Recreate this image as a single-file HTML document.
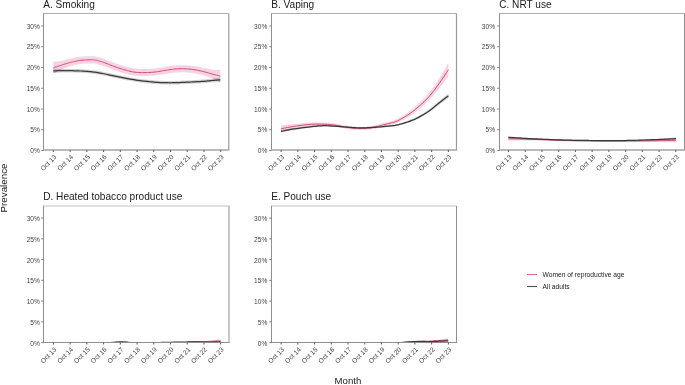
<!DOCTYPE html>
<html><head><meta charset="utf-8"><title>Prevalence chart</title>
<style>
html,body{margin:0;padding:0;background:#fff;width:685px;height:385px;overflow:hidden;}
svg{display:block;font-family:"Liberation Sans", sans-serif;filter:blur(0.3px);}
</style></head><body>
<svg width="685" height="385" viewBox="0 0 685 385">
<defs>
<clipPath id="clipA"><rect x="43.5" y="13.5" width="185.0" height="136.5"/></clipPath>
<clipPath id="clipB"><rect x="271.5" y="13.5" width="185.0" height="136.5"/></clipPath>
<clipPath id="clipC"><rect x="499.5" y="13.5" width="185.0" height="136.5"/></clipPath>
<clipPath id="clipD"><rect x="43.5" y="206.0" width="185.0" height="136.5"/></clipPath>
<clipPath id="clipE"><rect x="271.5" y="206.0" width="185.0" height="136.5"/></clipPath>
</defs>
<rect width="685" height="385" fill="#fff"/>
<polygon clip-path="url(#clipA)" points="53.30,61.50 53.83,61.55 54.54,61.60 55.40,61.61 56.34,61.59 57.32,61.52 58.29,61.42 59.20,61.30 60.00,61.17 60.71,61.03 61.37,60.89 62.00,60.74 62.61,60.59 63.20,60.44 63.79,60.28 64.39,60.13 65.00,59.98 65.62,59.83 66.25,59.68 66.88,59.54 67.50,59.39 68.12,59.25 68.75,59.10 69.38,58.96 70.00,58.81 70.62,58.66 71.23,58.50 71.83,58.35 72.44,58.20 73.05,58.04 73.68,57.90 74.33,57.75 75.00,57.61 75.68,57.48 76.36,57.35 77.04,57.22 77.75,57.09 78.49,56.98 79.27,56.86 80.10,56.76 81.00,56.67 82.01,56.58 83.13,56.50 84.33,56.43 85.56,56.36 86.79,56.30 87.96,56.25 89.05,56.22 90.00,56.19 90.82,56.18 91.53,56.17 92.17,56.17 92.75,56.18 93.30,56.21 93.84,56.25 94.40,56.31 95.00,56.40 95.62,56.50 96.25,56.64 96.88,56.79 97.50,56.96 98.12,57.14 98.75,57.33 99.38,57.51 100.00,57.70 100.59,57.87 101.13,58.02 101.66,58.18 102.19,58.34 102.76,58.52 103.40,58.73 104.14,58.99 105.00,59.30 106.01,59.68 107.15,60.13 108.38,60.63 109.69,61.16 111.03,61.69 112.38,62.23 113.72,62.73 115.00,63.20 116.25,63.63 117.50,64.05 118.75,64.46 120.00,64.85 121.25,65.23 122.50,65.60 123.75,65.96 125.00,66.30 126.25,66.64 127.50,66.98 128.75,67.30 130.00,67.62 131.25,67.91 132.50,68.18 133.75,68.41 135.00,68.60 136.25,68.75 137.50,68.86 138.75,68.93 140.00,68.98 141.25,69.01 142.50,69.01 143.75,69.01 145.00,69.00 146.25,68.98 147.50,68.94 148.75,68.89 150.00,68.82 151.25,68.74 152.50,68.64 153.75,68.53 155.00,68.40 156.25,68.25 157.50,68.07 158.75,67.86 160.00,67.65 161.25,67.43 162.50,67.21 163.75,67.00 165.00,66.80 166.25,66.61 167.50,66.41 168.75,66.21 170.00,66.01 171.25,65.83 172.50,65.66 173.75,65.51 175.00,65.40 176.25,65.31 177.50,65.23 178.75,65.18 180.00,65.14 181.25,65.13 182.50,65.13 183.75,65.15 185.00,65.19 186.25,65.25 187.50,65.32 188.75,65.41 190.00,65.53 191.25,65.65 192.50,65.80 193.75,65.97 195.00,66.15 196.27,66.35 197.57,66.59 198.88,66.85 200.19,67.11 201.47,67.39 202.71,67.65 203.89,67.90 205.00,68.14 206.01,68.35 206.93,68.55 207.79,68.75 208.61,68.94 209.41,69.12 210.23,69.29 211.08,69.45 212.00,69.60 213.03,69.73 214.18,69.83 215.38,69.90 216.59,69.91 217.74,69.86 218.78,69.76 219.65,69.63 220.30,69.50 220.30,82.70 219.65,82.24 218.78,81.68 217.74,81.06 216.59,80.44 215.38,79.85 214.18,79.30 213.03,78.82 212.00,78.40 211.08,78.04 210.23,77.70 209.41,77.38 208.61,77.08 207.79,76.77 206.93,76.47 206.01,76.17 205.00,75.86 203.89,75.55 202.71,75.22 201.47,74.89 200.19,74.56 198.88,74.25 197.57,73.95 196.27,73.69 195.00,73.45 193.75,73.25 192.50,73.07 191.25,72.91 190.00,72.77 188.75,72.65 187.50,72.55 186.25,72.47 185.00,72.41 183.75,72.37 182.50,72.34 181.25,72.34 180.00,72.36 178.75,72.39 177.50,72.44 176.25,72.51 175.00,72.60 173.75,72.72 172.50,72.86 171.25,73.03 170.00,73.21 168.75,73.41 167.50,73.61 166.25,73.81 165.00,74.00 163.75,74.20 162.50,74.41 161.25,74.63 160.00,74.85 158.75,75.06 157.50,75.27 156.25,75.45 155.00,75.60 153.75,75.73 152.50,75.84 151.25,75.94 150.00,76.03 148.75,76.09 147.50,76.14 146.25,76.18 145.00,76.20 143.75,76.21 142.50,76.21 141.25,76.21 140.00,76.18 138.75,76.13 137.50,76.06 136.25,75.95 135.00,75.80 133.75,75.61 132.50,75.38 131.25,75.11 130.00,74.82 128.75,74.50 127.50,74.18 126.25,73.84 125.00,73.50 123.75,73.16 122.50,72.80 121.25,72.43 120.00,72.05 118.75,71.66 117.50,71.25 116.25,70.83 115.00,70.40 113.72,69.94 112.38,69.43 111.03,68.90 109.69,68.36 108.38,67.83 107.15,67.33 106.01,66.88 105.00,66.50 104.14,66.19 103.40,65.93 102.76,65.72 102.19,65.54 101.66,65.38 101.13,65.23 100.59,65.07 100.00,64.90 99.38,64.72 98.75,64.53 98.12,64.34 97.50,64.16 96.88,64.00 96.25,63.84 95.62,63.71 95.00,63.60 94.40,63.52 93.84,63.46 93.30,63.42 92.75,63.39 92.17,63.38 91.53,63.38 90.82,63.39 90.00,63.41 89.05,63.43 87.96,63.48 86.79,63.53 85.56,63.59 84.33,63.66 83.13,63.75 82.01,63.84 81.00,63.93 80.10,64.04 79.27,64.15 78.49,64.27 77.75,64.41 77.04,64.54 76.36,64.69 75.68,64.83 75.00,64.99 74.33,65.14 73.68,65.31 73.05,65.48 72.44,65.65 71.83,65.83 71.23,66.02 70.62,66.20 70.00,66.39 69.38,66.58 68.75,66.77 68.12,66.96 67.50,67.16 66.88,67.36 66.25,67.57 65.62,67.79 65.00,68.02 64.39,68.26 63.79,68.51 63.20,68.76 62.61,69.02 62.00,69.30 61.37,69.59 60.71,69.90 60.00,70.23 59.20,70.62 58.29,71.07 57.32,71.58 56.34,72.12 55.40,72.68 54.54,73.23 53.83,73.72 53.30,74.10" fill="#d6457c" fill-opacity="0.24" />
<polygon clip-path="url(#clipA)" points="53.30,68.70 54.25,68.72 55.49,68.73 56.97,68.74 58.62,68.73 60.40,68.72 62.26,68.71 64.14,68.72 66.00,68.73 67.91,68.77 69.95,68.82 72.08,68.88 74.26,68.94 76.44,69.02 78.57,69.10 80.60,69.20 82.50,69.29 84.27,69.40 85.96,69.51 87.59,69.63 89.16,69.77 90.67,69.91 92.14,70.06 93.58,70.22 95.00,70.40 96.37,70.59 97.68,70.79 98.93,71.01 100.16,71.24 101.36,71.47 102.56,71.71 103.77,71.96 105.00,72.20 106.25,72.45 107.50,72.71 108.75,72.97 110.00,73.24 111.25,73.51 112.50,73.77 113.75,74.04 115.00,74.30 116.25,74.56 117.50,74.81 118.75,75.07 120.00,75.32 121.25,75.57 122.50,75.82 123.75,76.06 125.00,76.30 126.25,76.54 127.50,76.78 128.75,77.01 130.00,77.24 131.25,77.47 132.50,77.69 133.75,77.90 135.00,78.10 136.25,78.29 137.50,78.47 138.75,78.64 140.00,78.80 141.25,78.96 142.50,79.11 143.75,79.26 145.00,79.40 146.25,79.54 147.50,79.68 148.75,79.82 150.00,79.95 151.25,80.07 152.50,80.19 153.75,80.30 155.00,80.40 156.25,80.49 157.50,80.57 158.75,80.65 160.00,80.71 161.25,80.77 162.50,80.82 163.75,80.86 165.00,80.90 166.25,80.93 167.50,80.94 168.75,80.95 170.00,80.96 171.25,80.95 172.50,80.94 173.75,80.92 175.00,80.90 176.25,80.87 177.50,80.83 178.75,80.78 180.00,80.73 181.25,80.67 182.50,80.61 183.75,80.56 185.00,80.50 186.25,80.44 187.50,80.38 188.75,80.32 190.00,80.26 191.25,80.19 192.50,80.13 193.75,80.06 195.00,79.99 196.27,79.92 197.57,79.84 198.88,79.77 200.19,79.69 201.47,79.61 202.71,79.53 203.89,79.44 205.00,79.36 206.01,79.27 206.93,79.17 207.79,79.08 208.61,78.98 209.41,78.88 210.23,78.78 211.08,78.68 212.00,78.58 213.03,78.47 214.18,78.34 215.38,78.21 216.59,78.07 217.74,77.93 218.78,77.80 219.65,77.69 220.30,77.60 220.30,82.00 219.65,82.02 218.78,82.05 217.74,82.09 216.59,82.14 215.38,82.20 214.18,82.28 213.03,82.35 212.00,82.42 211.08,82.50 210.23,82.57 209.41,82.65 208.61,82.73 207.79,82.81 206.93,82.89 206.01,82.97 205.00,83.04 203.89,83.12 202.71,83.19 201.47,83.26 200.19,83.34 198.88,83.41 197.57,83.47 196.27,83.54 195.00,83.61 193.75,83.68 192.50,83.74 191.25,83.81 190.00,83.87 188.75,83.93 187.50,83.99 186.25,84.05 185.00,84.10 183.75,84.16 182.50,84.22 181.25,84.28 180.00,84.33 178.75,84.38 177.50,84.43 176.25,84.47 175.00,84.50 173.75,84.52 172.50,84.54 171.25,84.55 170.00,84.56 168.75,84.55 167.50,84.54 166.25,84.53 165.00,84.50 163.75,84.46 162.50,84.42 161.25,84.37 160.00,84.31 158.75,84.25 157.50,84.17 156.25,84.09 155.00,84.00 153.75,83.90 152.50,83.79 151.25,83.67 150.00,83.55 148.75,83.42 147.50,83.28 146.25,83.14 145.00,83.00 143.75,82.86 142.50,82.71 141.25,82.56 140.00,82.40 138.75,82.24 137.50,82.07 136.25,81.89 135.00,81.70 133.75,81.50 132.50,81.29 131.25,81.07 130.00,80.84 128.75,80.61 127.50,80.38 126.25,80.14 125.00,79.90 123.75,79.66 122.50,79.42 121.25,79.17 120.00,78.92 118.75,78.67 117.50,78.41 116.25,78.16 115.00,77.90 113.75,77.64 112.50,77.38 111.25,77.11 110.00,76.84 108.75,76.57 107.50,76.31 106.25,76.05 105.00,75.80 103.77,75.56 102.56,75.31 101.36,75.07 100.16,74.84 98.93,74.61 97.68,74.39 96.37,74.19 95.00,74.00 93.58,73.83 92.14,73.66 90.67,73.51 89.16,73.37 87.59,73.24 85.96,73.12 84.27,73.01 82.50,72.91 80.60,72.81 78.57,72.72 76.44,72.65 74.26,72.58 72.08,72.53 69.95,72.49 67.91,72.47 66.00,72.47 64.14,72.49 62.26,72.54 60.40,72.61 58.62,72.71 56.97,72.81 55.49,72.92 54.25,73.02 53.30,73.10" fill="#000000" fill-opacity="0.17" />
<polyline clip-path="url(#clipA)" points="53.30,67.80 53.83,67.64 54.54,67.41 55.40,67.15 56.34,66.86 57.32,66.55 58.29,66.25 59.20,65.96 60.00,65.70 60.71,65.47 61.37,65.24 62.00,65.02 62.61,64.81 63.20,64.60 63.79,64.39 64.39,64.20 65.00,64.00 65.62,63.81 66.25,63.63 66.88,63.45 67.50,63.27 68.12,63.10 68.75,62.94 69.38,62.77 70.00,62.60 70.62,62.43 71.23,62.26 71.83,62.09 72.44,61.93 73.05,61.76 73.68,61.60 74.33,61.45 75.00,61.30 75.68,61.16 76.36,61.02 77.04,60.88 77.75,60.75 78.49,60.63 79.27,60.51 80.10,60.40 81.00,60.30 82.01,60.21 83.13,60.12 84.33,60.05 85.56,59.98 86.79,59.91 87.96,59.86 89.05,59.83 90.00,59.80 90.82,59.78 91.53,59.77 92.17,59.78 92.75,59.79 93.30,59.81 93.84,59.86 94.40,59.92 95.00,60.00 95.62,60.11 96.25,60.24 96.88,60.39 97.50,60.56 98.12,60.74 98.75,60.93 99.38,61.12 100.00,61.30 100.59,61.47 101.13,61.62 101.66,61.78 102.19,61.94 102.76,62.12 103.40,62.33 104.14,62.59 105.00,62.90 106.01,63.28 107.15,63.73 108.38,64.23 109.69,64.76 111.03,65.30 112.38,65.83 113.72,66.34 115.00,66.80 116.25,67.23 117.50,67.65 118.75,68.06 120.00,68.45 121.25,68.83 122.50,69.20 123.75,69.56 125.00,69.90 126.25,70.24 127.50,70.58 128.75,70.90 130.00,71.22 131.25,71.51 132.50,71.78 133.75,72.01 135.00,72.20 136.25,72.35 137.50,72.46 138.75,72.53 140.00,72.58 141.25,72.61 142.50,72.61 143.75,72.61 145.00,72.60 146.25,72.58 147.50,72.54 148.75,72.49 150.00,72.43 151.25,72.34 152.50,72.24 153.75,72.13 155.00,72.00 156.25,71.85 157.50,71.67 158.75,71.46 160.00,71.25 161.25,71.03 162.50,70.81 163.75,70.60 165.00,70.40 166.25,70.21 167.50,70.01 168.75,69.81 170.00,69.61 171.25,69.43 172.50,69.26 173.75,69.12 175.00,69.00 176.25,68.91 177.50,68.84 178.75,68.78 180.00,68.75 181.25,68.73 182.50,68.74 183.75,68.76 185.00,68.80 186.25,68.86 187.50,68.94 188.75,69.03 190.00,69.15 191.25,69.28 192.50,69.44 193.75,69.61 195.00,69.80 196.27,70.02 197.57,70.27 198.88,70.55 200.19,70.84 201.47,71.14 202.71,71.44 203.89,71.73 205.00,72.00 206.01,72.26 206.93,72.51 207.79,72.76 208.61,73.01 209.41,73.25 210.23,73.50 211.08,73.75 212.00,74.00 213.03,74.27 214.18,74.57 215.38,74.87 216.59,75.17 217.74,75.46 218.78,75.72 219.65,75.94 220.30,76.10" fill="none" stroke="#d6457c" stroke-width="1.0" stroke-linejoin="round"/>
<polyline clip-path="url(#clipA)" points="53.30,70.90 54.25,70.87 55.49,70.83 56.97,70.77 58.62,70.72 60.40,70.67 62.26,70.63 64.14,70.60 66.00,70.60 67.91,70.62 69.95,70.65 72.08,70.70 74.26,70.76 76.44,70.83 78.57,70.91 80.60,71.00 82.50,71.10 84.27,71.20 85.96,71.32 87.59,71.44 89.16,71.57 90.67,71.71 92.14,71.86 93.58,72.02 95.00,72.20 96.37,72.39 97.68,72.59 98.93,72.81 100.16,73.04 101.36,73.27 102.56,73.51 103.77,73.76 105.00,74.00 106.25,74.25 107.50,74.51 108.75,74.77 110.00,75.04 111.25,75.31 112.50,75.58 113.75,75.84 115.00,76.10 116.25,76.36 117.50,76.61 118.75,76.87 120.00,77.12 121.25,77.37 122.50,77.62 123.75,77.86 125.00,78.10 126.25,78.34 127.50,78.58 128.75,78.81 130.00,79.04 131.25,79.27 132.50,79.49 133.75,79.70 135.00,79.90 136.25,80.09 137.50,80.27 138.75,80.44 140.00,80.60 141.25,80.76 142.50,80.91 143.75,81.06 145.00,81.20 146.25,81.34 147.50,81.48 148.75,81.62 150.00,81.75 151.25,81.87 152.50,81.99 153.75,82.10 155.00,82.20 156.25,82.29 157.50,82.37 158.75,82.45 160.00,82.51 161.25,82.57 162.50,82.62 163.75,82.66 165.00,82.70 166.25,82.73 167.50,82.74 168.75,82.75 170.00,82.76 171.25,82.75 172.50,82.74 173.75,82.72 175.00,82.70 176.25,82.67 177.50,82.63 178.75,82.58 180.00,82.53 181.25,82.47 182.50,82.42 183.75,82.36 185.00,82.30 186.25,82.24 187.50,82.18 188.75,82.12 190.00,82.06 191.25,82.00 192.50,81.93 193.75,81.87 195.00,81.80 196.27,81.73 197.57,81.66 198.88,81.59 200.19,81.51 201.47,81.44 202.71,81.36 203.89,81.28 205.00,81.20 206.01,81.12 206.93,81.03 207.79,80.94 208.61,80.86 209.41,80.77 210.23,80.68 211.08,80.59 212.00,80.50 213.03,80.41 214.18,80.31 215.38,80.21 216.59,80.11 217.74,80.01 218.78,79.93 219.65,79.85 220.30,79.80" fill="none" stroke="#383838" stroke-width="1.25" stroke-linejoin="round"/>
<line x1="43.5" y1="13.0" x2="43.5" y2="150.6" stroke="#8f8f8f" stroke-width="1"/>
<line x1="43.5" y1="13.5" x2="228.7" y2="13.5" stroke="#adadad" stroke-width="1.1"/>
<line x1="228.7" y1="13.5" x2="228.7" y2="150.0" stroke="#ababab" stroke-width="1.4"/>
<line x1="43.0" y1="150.0" x2="229.29999999999998" y2="150.0" stroke="#a3a3a3" stroke-width="1.4"/>
<line x1="41.20" y1="150.50" x2="43.5" y2="150.50" stroke="#858585" stroke-width="1"/>
<text x="39.90" y="153.00" text-anchor="end" font-size="6.6" fill="#444444">0%</text>
<line x1="41.20" y1="129.75" x2="43.5" y2="129.75" stroke="#858585" stroke-width="1"/>
<text x="39.90" y="132.25" text-anchor="end" font-size="6.6" fill="#444444">5%</text>
<line x1="41.20" y1="109.00" x2="43.5" y2="109.00" stroke="#858585" stroke-width="1"/>
<text x="39.90" y="111.50" text-anchor="end" font-size="6.6" fill="#444444">10%</text>
<line x1="41.20" y1="88.25" x2="43.5" y2="88.25" stroke="#858585" stroke-width="1"/>
<text x="39.90" y="90.75" text-anchor="end" font-size="6.6" fill="#444444">15%</text>
<line x1="41.20" y1="67.50" x2="43.5" y2="67.50" stroke="#858585" stroke-width="1"/>
<text x="39.90" y="70.00" text-anchor="end" font-size="6.6" fill="#444444">20%</text>
<line x1="41.20" y1="46.75" x2="43.5" y2="46.75" stroke="#858585" stroke-width="1"/>
<text x="39.90" y="49.25" text-anchor="end" font-size="6.6" fill="#444444">25%</text>
<line x1="41.20" y1="26.00" x2="43.5" y2="26.00" stroke="#858585" stroke-width="1"/>
<text x="39.90" y="28.50" text-anchor="end" font-size="6.6" fill="#444444">30%</text>
<line x1="53.40" y1="150.0" x2="53.40" y2="152.00" stroke="#5a5a5a" stroke-width="1"/>
<text transform="translate(53.50,154.10) rotate(-45)" text-anchor="end" font-size="6.6" fill="#444444" dy="4.8">Oct 13</text>
<line x1="70.13" y1="150.0" x2="70.13" y2="152.00" stroke="#5a5a5a" stroke-width="1"/>
<text transform="translate(70.23,154.10) rotate(-45)" text-anchor="end" font-size="6.6" fill="#444444" dy="4.8">Oct 14</text>
<line x1="86.86" y1="150.0" x2="86.86" y2="152.00" stroke="#5a5a5a" stroke-width="1"/>
<text transform="translate(86.96,154.10) rotate(-45)" text-anchor="end" font-size="6.6" fill="#444444" dy="4.8">Oct 15</text>
<line x1="103.59" y1="150.0" x2="103.59" y2="152.00" stroke="#5a5a5a" stroke-width="1"/>
<text transform="translate(103.69,154.10) rotate(-45)" text-anchor="end" font-size="6.6" fill="#444444" dy="4.8">Oct 16</text>
<line x1="120.32" y1="150.0" x2="120.32" y2="152.00" stroke="#5a5a5a" stroke-width="1"/>
<text transform="translate(120.42,154.10) rotate(-45)" text-anchor="end" font-size="6.6" fill="#444444" dy="4.8">Oct 17</text>
<line x1="137.05" y1="150.0" x2="137.05" y2="152.00" stroke="#5a5a5a" stroke-width="1"/>
<text transform="translate(137.15,154.10) rotate(-45)" text-anchor="end" font-size="6.6" fill="#444444" dy="4.8">Oct 18</text>
<line x1="153.78" y1="150.0" x2="153.78" y2="152.00" stroke="#5a5a5a" stroke-width="1"/>
<text transform="translate(153.88,154.10) rotate(-45)" text-anchor="end" font-size="6.6" fill="#444444" dy="4.8">Oct 19</text>
<line x1="170.51" y1="150.0" x2="170.51" y2="152.00" stroke="#5a5a5a" stroke-width="1"/>
<text transform="translate(170.61,154.10) rotate(-45)" text-anchor="end" font-size="6.6" fill="#444444" dy="4.8">Oct 20</text>
<line x1="187.24" y1="150.0" x2="187.24" y2="152.00" stroke="#5a5a5a" stroke-width="1"/>
<text transform="translate(187.34,154.10) rotate(-45)" text-anchor="end" font-size="6.6" fill="#444444" dy="4.8">Oct 21</text>
<line x1="203.97" y1="150.0" x2="203.97" y2="152.00" stroke="#5a5a5a" stroke-width="1"/>
<text transform="translate(204.07,154.10) rotate(-45)" text-anchor="end" font-size="6.6" fill="#444444" dy="4.8">Oct 22</text>
<line x1="220.70" y1="150.0" x2="220.70" y2="152.00" stroke="#5a5a5a" stroke-width="1"/>
<text transform="translate(220.80,154.10) rotate(-45)" text-anchor="end" font-size="6.6" fill="#444444" dy="4.8">Oct 23</text>
<text x="43.20" y="7.90" font-size="10.1" fill="#1a1a1a">A. Smoking</text>
<polygon clip-path="url(#clipB)" points="281.00,125.40 281.85,125.33 282.93,125.23 284.21,125.10 285.66,124.94 287.24,124.77 288.93,124.58 290.70,124.39 292.50,124.21 294.43,124.03 296.56,123.82 298.82,123.60 301.16,123.37 303.50,123.15 305.80,122.94 307.99,122.76 310.00,122.62 311.85,122.52 313.59,122.46 315.25,122.42 316.84,122.42 318.40,122.44 319.93,122.47 321.45,122.51 323.00,122.57 324.56,122.63 326.12,122.71 327.66,122.81 329.19,122.92 330.69,123.05 332.16,123.19 333.60,123.35 335.00,123.52 336.35,123.71 337.64,123.94 338.90,124.19 340.12,124.45 341.34,124.71 342.55,124.97 343.76,125.21 345.00,125.43 346.25,125.62 347.50,125.82 348.75,126.01 350.00,126.18 351.25,126.35 352.50,126.49 353.75,126.61 355.00,126.71 356.25,126.79 357.50,126.85 358.75,126.89 360.00,126.91 361.25,126.92 362.50,126.89 363.75,126.85 365.00,126.77 366.25,126.67 367.50,126.54 368.75,126.39 370.00,126.21 371.25,126.02 372.50,125.80 373.75,125.56 375.00,125.31 376.25,125.03 377.50,124.72 378.75,124.38 380.00,124.03 381.25,123.67 382.50,123.30 383.75,122.95 385.00,122.60 386.26,122.28 387.55,121.97 388.84,121.67 390.12,121.36 391.40,121.04 392.64,120.71 393.85,120.34 395.00,119.93 396.10,119.48 397.16,119.00 398.19,118.49 399.19,117.95 400.16,117.40 401.12,116.84 402.06,116.28 403.00,115.73 403.92,115.17 404.82,114.62 405.70,114.07 406.56,113.50 407.42,112.92 408.27,112.33 409.13,111.72 410.00,111.07 410.88,110.41 411.75,109.72 412.62,109.01 413.50,108.28 414.38,107.53 415.25,106.78 416.12,106.01 417.00,105.23 417.87,104.45 418.75,103.66 419.62,102.86 420.49,102.05 421.36,101.22 422.24,100.37 423.12,99.48 424.00,98.55 424.89,97.60 425.77,96.63 426.66,95.63 427.55,94.60 428.45,93.54 429.35,92.43 430.27,91.28 431.20,90.07 432.14,88.83 433.07,87.55 434.01,86.23 434.96,84.87 435.93,83.44 436.92,81.95 437.94,80.39 439.00,78.74 440.16,76.88 441.46,74.75 442.82,72.46 444.19,70.13 445.49,67.88 446.67,65.82 447.66,64.09 448.40,62.80 448.40,76.40 447.66,77.34 446.67,78.62 445.49,80.17 444.19,81.88 442.82,83.68 441.46,85.48 440.16,87.17 439.00,88.66 437.94,89.98 436.92,91.25 435.93,92.46 434.96,93.62 434.01,94.74 433.07,95.83 432.14,96.89 431.20,97.93 430.27,98.93 429.35,99.89 428.45,100.82 427.55,101.71 426.66,102.58 425.77,103.42 424.89,104.24 424.00,105.05 423.12,105.84 422.24,106.59 421.36,107.32 420.49,108.03 419.62,108.73 418.75,109.41 417.87,110.09 417.00,110.77 416.12,111.45 415.25,112.12 414.38,112.79 413.50,113.45 412.62,114.09 411.75,114.72 410.88,115.33 410.00,115.93 409.13,116.50 408.27,117.04 407.42,117.57 406.56,118.09 405.70,118.59 404.82,119.09 403.92,119.58 403.00,120.07 402.06,120.57 401.12,121.08 400.16,121.59 399.19,122.09 398.19,122.57 397.16,123.03 396.10,123.47 395.00,123.87 393.85,124.23 392.64,124.55 391.40,124.84 390.12,125.11 388.84,125.38 387.55,125.64 386.26,125.91 385.00,126.20 383.75,126.51 382.50,126.84 381.25,127.17 380.00,127.51 378.75,127.83 377.50,128.15 376.25,128.43 375.00,128.69 373.75,128.92 372.50,129.14 371.25,129.34 370.00,129.52 368.75,129.68 367.50,129.82 366.25,129.94 365.00,130.03 363.75,130.09 362.50,130.12 361.25,130.14 360.00,130.12 358.75,130.09 357.50,130.04 356.25,129.97 355.00,129.89 353.75,129.79 352.50,129.66 351.25,129.51 350.00,129.34 348.75,129.16 347.50,128.97 346.25,128.77 345.00,128.57 343.76,128.36 342.55,128.12 341.34,127.86 340.12,127.60 338.90,127.34 337.64,127.10 336.35,126.87 335.00,126.68 333.60,126.52 332.16,126.37 330.69,126.24 329.19,126.12 327.66,126.02 326.12,125.94 324.56,125.88 323.00,125.83 321.45,125.80 319.93,125.78 318.40,125.78 316.84,125.79 315.25,125.84 313.59,125.91 311.85,126.03 310.00,126.18 307.99,126.40 305.80,126.68 303.50,127.01 301.16,127.38 298.82,127.77 296.56,128.18 294.43,128.59 292.50,128.99 290.70,129.39 288.93,129.82 287.24,130.28 285.66,130.73 284.21,131.17 282.93,131.58 281.85,131.93 281.00,132.20" fill="#d6457c" fill-opacity="0.24" />
<polygon clip-path="url(#clipB)" points="281.00,130.10 281.85,129.96 282.93,129.77 284.21,129.54 285.66,129.28 287.24,129.00 288.93,128.71 290.70,128.43 292.50,128.17 294.43,127.90 296.56,127.63 298.82,127.34 301.16,127.06 303.50,126.77 305.80,126.50 307.99,126.25 310.00,126.02 311.85,125.82 313.59,125.62 315.25,125.44 316.84,125.28 318.40,125.13 319.93,125.01 321.45,124.92 323.00,124.86 324.56,124.85 326.12,124.87 327.66,124.92 329.19,125.00 330.69,125.09 332.16,125.19 333.60,125.29 335.00,125.38 336.35,125.46 337.64,125.56 338.90,125.66 340.12,125.77 341.34,125.87 342.55,125.98 343.76,126.08 345.00,126.18 346.25,126.27 347.50,126.37 348.75,126.47 350.00,126.57 351.25,126.66 352.50,126.74 353.75,126.82 355.00,126.87 356.25,126.92 357.50,126.95 358.75,126.98 360.00,126.99 361.25,127.00 362.50,127.00 363.75,126.98 365.00,126.96 366.25,126.93 367.50,126.88 368.75,126.83 370.00,126.77 371.25,126.69 372.50,126.62 373.75,126.53 375.00,126.44 376.25,126.35 377.50,126.24 378.75,126.13 380.00,126.02 381.25,125.89 382.50,125.77 383.75,125.64 385.00,125.51 386.25,125.39 387.50,125.27 388.75,125.16 390.00,125.04 391.25,124.90 392.50,124.75 393.75,124.57 395.00,124.36 396.25,124.11 397.50,123.84 398.75,123.55 400.00,123.24 401.25,122.90 402.50,122.54 403.75,122.17 405.00,121.78 406.25,121.37 407.50,120.95 408.75,120.52 410.00,120.06 411.25,119.58 412.50,119.07 413.75,118.53 415.00,117.95 416.28,117.32 417.59,116.62 418.93,115.89 420.25,115.13 421.54,114.37 422.78,113.62 423.94,112.91 425.00,112.25 425.96,111.64 426.83,111.06 427.63,110.50 428.38,109.96 429.07,109.45 429.73,108.94 430.37,108.45 431.00,107.97 431.59,107.52 432.12,107.09 432.60,106.69 433.06,106.30 433.51,105.91 433.98,105.51 434.47,105.09 435.00,104.63 435.58,104.14 436.18,103.62 436.80,103.08 437.44,102.52 438.08,101.96 438.73,101.40 439.37,100.85 440.00,100.31 440.64,99.77 441.29,99.22 441.95,98.67 442.60,98.12 443.24,97.59 443.86,97.07 444.45,96.58 445.00,96.13 445.52,95.70 446.04,95.28 446.54,94.88 447.01,94.50 447.44,94.16 447.83,93.86 448.15,93.60 448.40,93.40 448.40,98.20 448.15,98.37 447.83,98.58 447.44,98.82 447.01,99.11 446.54,99.42 446.04,99.76 445.52,100.11 445.00,100.47 444.45,100.86 443.86,101.27 443.24,101.72 442.60,102.18 441.95,102.65 441.29,103.14 440.64,103.62 440.00,104.09 439.37,104.57 438.73,105.06 438.08,105.56 437.44,106.07 436.80,106.56 436.18,107.05 435.58,107.52 435.00,107.97 434.47,108.39 433.98,108.77 433.51,109.14 433.06,109.50 432.60,109.85 432.12,110.22 431.59,110.61 431.00,111.03 430.37,111.46 429.73,111.91 429.07,112.37 428.38,112.85 427.63,113.34 426.83,113.86 425.96,114.39 425.00,114.95 423.94,115.56 422.78,116.22 421.54,116.91 420.25,117.62 418.93,118.33 417.59,119.01 416.28,119.66 415.00,120.25 413.75,120.79 412.50,121.29 411.25,121.77 410.00,122.22 408.75,122.64 407.50,123.05 406.25,123.44 405.00,123.82 403.75,124.19 402.50,124.54 401.25,124.87 400.00,125.19 398.75,125.49 397.50,125.76 396.25,126.01 395.00,126.24 393.75,126.44 392.50,126.60 391.25,126.74 390.00,126.86 388.75,126.97 387.50,127.07 386.25,127.18 385.00,127.29 383.75,127.41 382.50,127.53 381.25,127.65 380.00,127.76 378.75,127.87 377.50,127.97 376.25,128.07 375.00,128.16 373.75,128.24 372.50,128.32 371.25,128.39 370.00,128.46 368.75,128.52 367.50,128.57 366.25,128.61 365.00,128.64 363.75,128.66 362.50,128.67 361.25,128.67 360.00,128.66 358.75,128.64 357.50,128.61 356.25,128.57 355.00,128.53 353.75,128.47 352.50,128.39 351.25,128.31 350.00,128.22 348.75,128.12 347.50,128.02 346.25,127.92 345.00,127.82 343.76,127.72 342.55,127.62 341.34,127.52 340.12,127.41 338.90,127.30 337.64,127.20 336.35,127.11 335.00,127.02 333.60,126.94 332.16,126.84 330.69,126.74 329.19,126.65 327.66,126.58 326.12,126.53 324.56,126.51 323.00,126.54 321.45,126.60 319.93,126.70 318.40,126.82 316.84,126.97 315.25,127.15 313.59,127.34 311.85,127.55 310.00,127.78 307.99,128.02 305.80,128.30 303.50,128.60 301.16,128.92 298.82,129.25 296.56,129.59 294.43,129.92 292.50,130.23 290.70,130.56 288.93,130.90 287.24,131.26 285.66,131.61 284.21,131.95 282.93,132.25 281.85,132.50 281.00,132.70" fill="#000000" fill-opacity="0.17" />
<polyline clip-path="url(#clipB)" points="281.00,128.80 281.85,128.63 282.93,128.40 284.21,128.14 285.66,127.84 287.24,127.52 288.93,127.20 290.70,126.89 292.50,126.60 294.43,126.31 296.56,126.00 298.82,125.69 301.16,125.38 303.50,125.08 305.80,124.81 307.99,124.58 310.00,124.40 311.85,124.27 313.59,124.18 315.25,124.13 316.84,124.11 318.40,124.11 319.93,124.13 321.45,124.16 323.00,124.20 324.56,124.25 326.12,124.32 327.66,124.41 329.19,124.52 330.69,124.64 332.16,124.78 333.60,124.93 335.00,125.10 336.35,125.29 337.64,125.52 338.90,125.77 340.12,126.03 341.34,126.29 342.55,126.54 343.76,126.78 345.00,127.00 346.25,127.20 347.50,127.40 348.75,127.58 350.00,127.76 351.25,127.93 352.50,128.07 353.75,128.20 355.00,128.30 356.25,128.38 357.50,128.44 358.75,128.49 360.00,128.52 361.25,128.53 362.50,128.51 363.75,128.47 365.00,128.40 366.25,128.30 367.50,128.18 368.75,128.04 370.00,127.87 371.25,127.68 372.50,127.47 373.75,127.24 375.00,127.00 376.25,126.73 377.50,126.43 378.75,126.11 380.00,125.77 381.25,125.42 382.50,125.07 383.75,124.73 385.00,124.40 386.26,124.09 387.55,123.80 388.84,123.52 390.12,123.24 391.40,122.94 392.64,122.63 393.85,122.28 395.00,121.90 396.10,121.47 397.16,121.01 398.19,120.53 399.19,120.02 400.16,119.50 401.12,118.96 402.06,118.43 403.00,117.90 403.92,117.38 404.82,116.85 405.70,116.33 406.56,115.79 407.42,115.25 408.27,114.69 409.13,114.11 410.00,113.50 410.88,112.87 411.75,112.22 412.62,111.55 413.50,110.86 414.38,110.16 415.25,109.45 416.12,108.73 417.00,108.00 417.87,107.27 418.75,106.54 419.62,105.80 420.49,105.04 421.36,104.27 422.24,103.48 423.12,102.66 424.00,101.80 424.89,100.92 425.77,100.02 426.66,99.10 427.55,98.16 428.45,97.18 429.35,96.16 430.27,95.11 431.20,94.00 432.14,92.86 433.07,91.69 434.01,90.49 434.96,89.24 435.93,87.95 436.92,86.60 437.94,85.19 439.00,83.70 440.16,82.02 441.46,80.11 442.82,78.07 444.19,76.01 445.49,74.02 446.67,72.22 447.66,70.71 448.40,69.60" fill="none" stroke="#d6457c" stroke-width="1.0" stroke-linejoin="round"/>
<polyline clip-path="url(#clipB)" points="281.00,131.40 281.85,131.23 282.93,131.01 284.21,130.74 285.66,130.44 287.24,130.13 288.93,129.81 290.70,129.49 292.50,129.20 294.43,128.91 296.56,128.61 298.82,128.30 301.16,127.99 303.50,127.69 305.80,127.40 307.99,127.14 310.00,126.90 311.85,126.69 313.59,126.48 315.25,126.29 316.84,126.12 318.40,125.98 319.93,125.85 321.45,125.76 323.00,125.70 324.56,125.68 326.12,125.70 327.66,125.75 329.19,125.83 330.69,125.92 332.16,126.01 333.60,126.11 335.00,126.20 336.35,126.29 337.64,126.38 338.90,126.48 340.12,126.59 341.34,126.69 342.55,126.80 343.76,126.90 345.00,127.00 346.25,127.10 347.50,127.20 348.75,127.30 350.00,127.39 351.25,127.49 352.50,127.57 353.75,127.64 355.00,127.70 356.25,127.75 357.50,127.78 358.75,127.81 360.00,127.83 361.25,127.83 362.50,127.83 363.75,127.82 365.00,127.80 366.25,127.77 367.50,127.73 368.75,127.67 370.00,127.61 371.25,127.54 372.50,127.47 373.75,127.39 375.00,127.30 376.25,127.21 377.50,127.11 378.75,127.00 380.00,126.89 381.25,126.77 382.50,126.65 383.75,126.52 385.00,126.40 386.25,126.28 387.50,126.17 388.75,126.06 390.00,125.95 391.25,125.82 392.50,125.68 393.75,125.51 395.00,125.30 396.25,125.06 397.50,124.80 398.75,124.52 400.00,124.21 401.25,123.89 402.50,123.54 403.75,123.18 405.00,122.80 406.25,122.41 407.50,122.00 408.75,121.58 410.00,121.14 411.25,120.67 412.50,120.18 413.75,119.66 415.00,119.10 416.28,118.49 417.59,117.82 418.93,117.11 420.25,116.38 421.54,115.64 422.78,114.92 423.94,114.23 425.00,113.60 425.96,113.01 426.83,112.46 427.63,111.92 428.38,111.41 429.07,110.91 429.73,110.43 430.37,109.96 431.00,109.50 431.59,109.06 432.12,108.66 432.60,108.27 433.06,107.90 433.51,107.53 433.98,107.14 434.47,106.74 435.00,106.30 435.58,105.83 436.18,105.33 436.80,104.82 437.44,104.29 438.08,103.76 438.73,103.23 439.37,102.71 440.00,102.20 440.64,101.69 441.29,101.18 441.95,100.66 442.60,100.15 443.24,99.65 443.86,99.17 444.45,98.72 445.00,98.30 445.52,97.90 446.04,97.52 446.54,97.15 447.01,96.81 447.44,96.49 447.83,96.22 448.15,95.98 448.40,95.80" fill="none" stroke="#383838" stroke-width="1.25" stroke-linejoin="round"/>
<line x1="271.5" y1="13.0" x2="271.5" y2="150.6" stroke="#8f8f8f" stroke-width="1"/>
<line x1="271.5" y1="13.5" x2="456.5" y2="13.5" stroke="#adadad" stroke-width="1.1"/>
<line x1="456.5" y1="13.5" x2="456.5" y2="150.0" stroke="#9a9a9a" stroke-width="1.2"/>
<line x1="271.0" y1="150.0" x2="457.1" y2="150.0" stroke="#a3a3a3" stroke-width="1.4"/>
<line x1="269.20" y1="150.50" x2="271.5" y2="150.50" stroke="#858585" stroke-width="1"/>
<text x="267.30" y="153.00" text-anchor="end" font-size="6.6" fill="#444444">0%</text>
<line x1="269.20" y1="129.75" x2="271.5" y2="129.75" stroke="#858585" stroke-width="1"/>
<text x="267.30" y="132.25" text-anchor="end" font-size="6.6" fill="#444444">5%</text>
<line x1="269.20" y1="109.00" x2="271.5" y2="109.00" stroke="#858585" stroke-width="1"/>
<text x="267.30" y="111.50" text-anchor="end" font-size="6.6" fill="#444444">10%</text>
<line x1="269.20" y1="88.25" x2="271.5" y2="88.25" stroke="#858585" stroke-width="1"/>
<text x="267.30" y="90.75" text-anchor="end" font-size="6.6" fill="#444444">15%</text>
<line x1="269.20" y1="67.50" x2="271.5" y2="67.50" stroke="#858585" stroke-width="1"/>
<text x="267.30" y="70.00" text-anchor="end" font-size="6.6" fill="#444444">20%</text>
<line x1="269.20" y1="46.75" x2="271.5" y2="46.75" stroke="#858585" stroke-width="1"/>
<text x="267.30" y="49.25" text-anchor="end" font-size="6.6" fill="#444444">25%</text>
<line x1="269.20" y1="26.00" x2="271.5" y2="26.00" stroke="#858585" stroke-width="1"/>
<text x="267.30" y="28.50" text-anchor="end" font-size="6.6" fill="#444444">30%</text>
<line x1="281.10" y1="150.0" x2="281.10" y2="152.00" stroke="#5a5a5a" stroke-width="1"/>
<text transform="translate(281.20,154.10) rotate(-45)" text-anchor="end" font-size="6.6" fill="#444444" dy="4.8">Oct 13</text>
<line x1="297.83" y1="150.0" x2="297.83" y2="152.00" stroke="#5a5a5a" stroke-width="1"/>
<text transform="translate(297.93,154.10) rotate(-45)" text-anchor="end" font-size="6.6" fill="#444444" dy="4.8">Oct 14</text>
<line x1="314.56" y1="150.0" x2="314.56" y2="152.00" stroke="#5a5a5a" stroke-width="1"/>
<text transform="translate(314.66,154.10) rotate(-45)" text-anchor="end" font-size="6.6" fill="#444444" dy="4.8">Oct 15</text>
<line x1="331.29" y1="150.0" x2="331.29" y2="152.00" stroke="#5a5a5a" stroke-width="1"/>
<text transform="translate(331.39,154.10) rotate(-45)" text-anchor="end" font-size="6.6" fill="#444444" dy="4.8">Oct 16</text>
<line x1="348.02" y1="150.0" x2="348.02" y2="152.00" stroke="#5a5a5a" stroke-width="1"/>
<text transform="translate(348.12,154.10) rotate(-45)" text-anchor="end" font-size="6.6" fill="#444444" dy="4.8">Oct 17</text>
<line x1="364.75" y1="150.0" x2="364.75" y2="152.00" stroke="#5a5a5a" stroke-width="1"/>
<text transform="translate(364.85,154.10) rotate(-45)" text-anchor="end" font-size="6.6" fill="#444444" dy="4.8">Oct 18</text>
<line x1="381.48" y1="150.0" x2="381.48" y2="152.00" stroke="#5a5a5a" stroke-width="1"/>
<text transform="translate(381.58,154.10) rotate(-45)" text-anchor="end" font-size="6.6" fill="#444444" dy="4.8">Oct 19</text>
<line x1="398.21" y1="150.0" x2="398.21" y2="152.00" stroke="#5a5a5a" stroke-width="1"/>
<text transform="translate(398.31,154.10) rotate(-45)" text-anchor="end" font-size="6.6" fill="#444444" dy="4.8">Oct 20</text>
<line x1="414.94" y1="150.0" x2="414.94" y2="152.00" stroke="#5a5a5a" stroke-width="1"/>
<text transform="translate(415.04,154.10) rotate(-45)" text-anchor="end" font-size="6.6" fill="#444444" dy="4.8">Oct 21</text>
<line x1="431.67" y1="150.0" x2="431.67" y2="152.00" stroke="#5a5a5a" stroke-width="1"/>
<text transform="translate(431.77,154.10) rotate(-45)" text-anchor="end" font-size="6.6" fill="#444444" dy="4.8">Oct 22</text>
<line x1="448.40" y1="150.0" x2="448.40" y2="152.00" stroke="#5a5a5a" stroke-width="1"/>
<text transform="translate(448.50,154.10) rotate(-45)" text-anchor="end" font-size="6.6" fill="#444444" dy="4.8">Oct 23</text>
<text x="271.20" y="7.90" font-size="10.1" fill="#1a1a1a">B. Vaping</text>
<polygon clip-path="url(#clipC)" points="508.40,136.90 509.76,137.02 511.56,137.16 513.70,137.31 516.09,137.47 518.61,137.62 521.17,137.76 523.67,137.88 526.00,137.99 528.23,138.09 530.47,138.19 532.73,138.28 534.99,138.37 537.23,138.45 539.46,138.54 541.65,138.62 543.80,138.70 545.91,138.79 547.99,138.88 550.04,138.96 552.07,139.05 554.08,139.14 556.07,139.22 558.04,139.30 560.00,139.37 561.93,139.43 563.83,139.49 565.71,139.55 567.58,139.60 569.43,139.65 571.28,139.70 573.13,139.74 575.00,139.78 576.88,139.82 578.75,139.85 580.62,139.88 582.50,139.90 584.38,139.93 586.25,139.95 588.12,139.97 590.00,139.99 591.88,140.00 593.75,140.02 595.62,140.03 597.50,140.04 599.38,140.05 601.25,140.06 603.12,140.07 605.00,140.08 606.88,140.08 608.75,140.08 610.62,140.07 612.50,140.07 614.38,140.06 616.25,140.06 618.12,140.05 620.00,140.05 621.88,140.04 623.75,140.04 625.62,140.04 627.50,140.03 629.38,140.02 631.25,140.01 633.12,140.00 635.00,139.98 636.88,139.95 638.75,139.91 640.62,139.87 642.50,139.83 644.38,139.78 646.25,139.72 648.12,139.67 650.00,139.62 651.90,139.56 653.84,139.50 655.80,139.43 657.75,139.36 659.67,139.29 661.53,139.21 663.32,139.13 665.00,139.05 666.64,138.96 668.29,138.86 669.90,138.76 671.44,138.66 672.86,138.55 674.12,138.46 675.18,138.37 676.00,138.30 676.00,142.50 675.18,142.46 674.12,142.42 672.86,142.37 671.44,142.32 669.90,142.27 668.29,142.23 666.64,142.19 665.00,142.15 663.32,142.12 661.53,142.09 659.67,142.06 657.75,142.04 655.80,142.02 653.84,142.00 651.90,141.99 650.00,141.98 648.12,141.98 646.25,141.98 644.38,141.99 642.50,142.00 640.62,142.01 638.75,142.02 636.88,142.02 635.00,142.02 633.12,142.02 631.25,142.01 629.38,142.00 627.50,141.99 625.62,141.98 623.75,141.97 621.88,141.96 620.00,141.95 618.12,141.95 616.25,141.95 614.38,141.94 612.50,141.94 610.62,141.94 608.75,141.94 606.88,141.93 605.00,141.92 603.12,141.92 601.25,141.91 599.38,141.89 597.50,141.88 595.62,141.87 593.75,141.85 591.88,141.83 590.00,141.81 588.12,141.80 586.25,141.78 584.38,141.75 582.50,141.73 580.62,141.71 578.75,141.68 576.88,141.65 575.00,141.62 573.13,141.58 571.28,141.54 569.43,141.49 567.58,141.45 565.71,141.40 563.83,141.35 561.93,141.29 560.00,141.23 558.04,141.17 556.07,141.10 554.08,141.03 552.07,140.96 550.04,140.89 547.99,140.82 545.91,140.75 543.80,140.70 541.65,140.64 539.46,140.59 537.23,140.55 534.99,140.51 532.73,140.47 530.47,140.45 528.23,140.42 526.00,140.41 523.67,140.40 521.17,140.41 518.61,140.43 516.09,140.47 513.70,140.52 511.56,140.58 509.76,140.64 508.40,140.70" fill="#d6457c" fill-opacity="0.24" />
<polygon clip-path="url(#clipC)" points="508.40,136.30 509.76,136.42 511.56,136.58 513.70,136.75 516.09,136.94 518.61,137.14 521.17,137.32 523.67,137.49 526.00,137.65 528.23,137.79 530.47,137.92 532.73,138.06 534.99,138.19 537.23,138.32 539.46,138.44 541.65,138.55 543.80,138.65 545.91,138.75 547.99,138.84 550.04,138.92 552.07,139.00 554.08,139.08 556.07,139.15 558.04,139.22 560.00,139.28 561.93,139.35 563.83,139.41 565.71,139.46 567.58,139.51 569.43,139.56 571.28,139.61 573.13,139.65 575.00,139.69 576.88,139.73 578.75,139.76 580.62,139.79 582.50,139.81 584.38,139.83 586.25,139.86 588.12,139.87 590.00,139.89 591.88,139.91 593.75,139.93 595.62,139.94 597.50,139.95 599.38,139.97 601.25,139.98 603.12,139.98 605.00,139.99 606.88,140.00 608.75,140.00 610.62,140.01 612.50,140.01 614.38,140.01 616.25,140.00 618.12,139.99 620.00,139.98 621.88,139.95 623.75,139.92 625.62,139.89 627.50,139.85 629.38,139.80 631.25,139.75 633.12,139.70 635.00,139.65 636.88,139.59 638.75,139.53 640.62,139.46 642.50,139.39 644.38,139.32 646.25,139.24 648.12,139.16 650.00,139.08 651.90,139.00 653.84,138.91 655.80,138.82 657.75,138.72 659.67,138.63 661.53,138.53 663.32,138.43 665.00,138.33 666.64,138.22 668.29,138.11 669.90,137.99 671.44,137.87 672.86,137.76 674.12,137.66 675.18,137.57 676.00,137.50 676.00,139.70 675.18,139.72 674.12,139.76 672.86,139.80 671.44,139.85 669.90,139.90 668.29,139.96 666.64,140.02 665.00,140.07 663.32,140.12 661.53,140.18 659.67,140.23 657.75,140.29 655.80,140.35 653.84,140.40 651.90,140.46 650.00,140.52 648.12,140.57 646.25,140.63 644.38,140.69 642.50,140.75 640.62,140.80 638.75,140.85 636.88,140.90 635.00,140.95 633.12,141.00 631.25,141.04 629.38,141.08 627.50,141.12 625.62,141.15 623.75,141.18 621.88,141.20 620.00,141.22 618.12,141.24 616.25,141.24 614.38,141.24 612.50,141.24 610.62,141.23 608.75,141.23 606.88,141.22 605.00,141.21 603.12,141.20 601.25,141.19 599.38,141.18 597.50,141.17 595.62,141.16 593.75,141.14 591.88,141.12 590.00,141.11 588.12,141.09 586.25,141.07 584.38,141.05 582.50,141.03 580.62,141.00 578.75,140.97 576.88,140.94 575.00,140.91 573.13,140.87 571.28,140.83 569.43,140.78 567.58,140.74 565.71,140.69 563.83,140.63 561.93,140.58 560.00,140.52 558.04,140.46 556.07,140.39 554.08,140.33 552.07,140.26 550.04,140.19 547.99,140.11 545.91,140.03 543.80,139.95 541.65,139.86 539.46,139.76 537.23,139.66 534.99,139.56 532.73,139.46 530.47,139.35 528.23,139.25 526.00,139.15 523.67,139.05 521.17,138.95 518.61,138.84 516.09,138.74 513.70,138.66 511.56,138.59 509.76,138.53 508.40,138.50" fill="#000000" fill-opacity="0.17" />
<polyline clip-path="url(#clipC)" points="508.40,138.80 509.76,138.83 511.56,138.87 513.70,138.92 516.09,138.97 518.61,139.03 521.17,139.08 523.67,139.14 526.00,139.20 528.23,139.26 530.47,139.32 532.73,139.38 534.99,139.44 537.23,139.50 539.46,139.57 541.65,139.63 543.80,139.70 545.91,139.77 547.99,139.85 550.04,139.93 552.07,140.01 554.08,140.09 556.07,140.16 558.04,140.23 560.00,140.30 561.93,140.36 563.83,140.42 565.71,140.47 567.58,140.53 569.43,140.57 571.28,140.62 573.13,140.66 575.00,140.70 576.88,140.74 578.75,140.77 580.62,140.79 582.50,140.82 584.38,140.84 586.25,140.86 588.12,140.88 590.00,140.90 591.88,140.92 593.75,140.93 595.62,140.95 597.50,140.96 599.38,140.97 601.25,140.98 603.12,140.99 605.00,141.00 606.88,141.00 608.75,141.01 610.62,141.01 612.50,141.01 614.38,141.00 616.25,141.00 618.12,141.00 620.00,141.00 621.88,141.00 623.75,141.00 625.62,141.01 627.50,141.01 629.38,141.01 631.25,141.01 633.12,141.01 635.00,141.00 636.88,140.98 638.75,140.96 640.62,140.94 642.50,140.91 644.38,140.88 646.25,140.85 648.12,140.83 650.00,140.80 651.90,140.78 653.84,140.75 655.80,140.73 657.75,140.70 659.67,140.68 661.53,140.65 663.32,140.62 665.00,140.60 666.64,140.57 668.29,140.55 669.90,140.52 671.44,140.49 672.86,140.46 674.12,140.44 675.18,140.42 676.00,140.40" fill="none" stroke="#d6457c" stroke-width="1.0" stroke-linejoin="round"/>
<polyline clip-path="url(#clipC)" points="508.40,137.40 509.76,137.48 511.56,137.58 513.70,137.71 516.09,137.84 518.61,137.99 521.17,138.13 523.67,138.27 526.00,138.40 528.23,138.52 530.47,138.64 532.73,138.76 534.99,138.88 537.23,138.99 539.46,139.10 541.65,139.20 543.80,139.30 545.91,139.39 547.99,139.48 550.04,139.56 552.07,139.63 554.08,139.70 556.07,139.77 558.04,139.84 560.00,139.90 561.93,139.96 563.83,140.02 565.71,140.07 567.58,140.12 569.43,140.17 571.28,140.22 573.13,140.26 575.00,140.30 576.88,140.34 578.75,140.37 580.62,140.39 582.50,140.42 584.38,140.44 586.25,140.46 588.12,140.48 590.00,140.50 591.88,140.52 593.75,140.53 595.62,140.55 597.50,140.56 599.38,140.57 601.25,140.58 603.12,140.59 605.00,140.60 606.88,140.61 608.75,140.61 610.62,140.62 612.50,140.62 614.38,140.63 616.25,140.62 618.12,140.62 620.00,140.60 621.88,140.58 623.75,140.55 625.62,140.52 627.50,140.48 629.38,140.44 631.25,140.40 633.12,140.35 635.00,140.30 636.88,140.25 638.75,140.19 640.62,140.13 642.50,140.07 644.38,140.00 646.25,139.94 648.12,139.87 650.00,139.80 651.90,139.73 653.84,139.66 655.80,139.58 657.75,139.51 659.67,139.43 661.53,139.35 663.32,139.28 665.00,139.20 666.64,139.12 668.29,139.04 669.90,138.95 671.44,138.86 672.86,138.78 674.12,138.71 675.18,138.65 676.00,138.60" fill="none" stroke="#383838" stroke-width="1.25" stroke-linejoin="round"/>
<line x1="499.5" y1="13.0" x2="499.5" y2="150.6" stroke="#8f8f8f" stroke-width="1"/>
<line x1="499.5" y1="13.5" x2="684.5" y2="13.5" stroke="#adadad" stroke-width="1.1"/>
<line x1="684.5" y1="13.5" x2="684.5" y2="150.0" stroke="#8f8f8f" stroke-width="1.0"/>
<line x1="499.0" y1="150.0" x2="685.1" y2="150.0" stroke="#a3a3a3" stroke-width="1.4"/>
<line x1="497.20" y1="150.50" x2="499.5" y2="150.50" stroke="#858585" stroke-width="1"/>
<text x="495.00" y="153.00" text-anchor="end" font-size="6.6" fill="#444444">0%</text>
<line x1="497.20" y1="129.75" x2="499.5" y2="129.75" stroke="#858585" stroke-width="1"/>
<text x="495.00" y="132.25" text-anchor="end" font-size="6.6" fill="#444444">5%</text>
<line x1="497.20" y1="109.00" x2="499.5" y2="109.00" stroke="#858585" stroke-width="1"/>
<text x="495.00" y="111.50" text-anchor="end" font-size="6.6" fill="#444444">10%</text>
<line x1="497.20" y1="88.25" x2="499.5" y2="88.25" stroke="#858585" stroke-width="1"/>
<text x="495.00" y="90.75" text-anchor="end" font-size="6.6" fill="#444444">15%</text>
<line x1="497.20" y1="67.50" x2="499.5" y2="67.50" stroke="#858585" stroke-width="1"/>
<text x="495.00" y="70.00" text-anchor="end" font-size="6.6" fill="#444444">20%</text>
<line x1="497.20" y1="46.75" x2="499.5" y2="46.75" stroke="#858585" stroke-width="1"/>
<text x="495.00" y="49.25" text-anchor="end" font-size="6.6" fill="#444444">25%</text>
<line x1="497.20" y1="26.00" x2="499.5" y2="26.00" stroke="#858585" stroke-width="1"/>
<text x="495.00" y="28.50" text-anchor="end" font-size="6.6" fill="#444444">30%</text>
<line x1="508.50" y1="150.0" x2="508.50" y2="152.00" stroke="#5a5a5a" stroke-width="1"/>
<text transform="translate(508.60,154.10) rotate(-45)" text-anchor="end" font-size="6.6" fill="#444444" dy="4.8">Oct 13</text>
<line x1="525.23" y1="150.0" x2="525.23" y2="152.00" stroke="#5a5a5a" stroke-width="1"/>
<text transform="translate(525.33,154.10) rotate(-45)" text-anchor="end" font-size="6.6" fill="#444444" dy="4.8">Oct 14</text>
<line x1="541.96" y1="150.0" x2="541.96" y2="152.00" stroke="#5a5a5a" stroke-width="1"/>
<text transform="translate(542.06,154.10) rotate(-45)" text-anchor="end" font-size="6.6" fill="#444444" dy="4.8">Oct 15</text>
<line x1="558.69" y1="150.0" x2="558.69" y2="152.00" stroke="#5a5a5a" stroke-width="1"/>
<text transform="translate(558.79,154.10) rotate(-45)" text-anchor="end" font-size="6.6" fill="#444444" dy="4.8">Oct 16</text>
<line x1="575.42" y1="150.0" x2="575.42" y2="152.00" stroke="#5a5a5a" stroke-width="1"/>
<text transform="translate(575.52,154.10) rotate(-45)" text-anchor="end" font-size="6.6" fill="#444444" dy="4.8">Oct 17</text>
<line x1="592.15" y1="150.0" x2="592.15" y2="152.00" stroke="#5a5a5a" stroke-width="1"/>
<text transform="translate(592.25,154.10) rotate(-45)" text-anchor="end" font-size="6.6" fill="#444444" dy="4.8">Oct 18</text>
<line x1="608.88" y1="150.0" x2="608.88" y2="152.00" stroke="#5a5a5a" stroke-width="1"/>
<text transform="translate(608.98,154.10) rotate(-45)" text-anchor="end" font-size="6.6" fill="#444444" dy="4.8">Oct 19</text>
<line x1="625.61" y1="150.0" x2="625.61" y2="152.00" stroke="#5a5a5a" stroke-width="1"/>
<text transform="translate(625.71,154.10) rotate(-45)" text-anchor="end" font-size="6.6" fill="#444444" dy="4.8">Oct 20</text>
<line x1="642.34" y1="150.0" x2="642.34" y2="152.00" stroke="#5a5a5a" stroke-width="1"/>
<text transform="translate(642.44,154.10) rotate(-45)" text-anchor="end" font-size="6.6" fill="#444444" dy="4.8">Oct 21</text>
<line x1="659.07" y1="150.0" x2="659.07" y2="152.00" stroke="#5a5a5a" stroke-width="1"/>
<text transform="translate(659.17,154.10) rotate(-45)" text-anchor="end" font-size="6.6" fill="#444444" dy="4.8">Oct 22</text>
<line x1="675.80" y1="150.0" x2="675.80" y2="152.00" stroke="#5a5a5a" stroke-width="1"/>
<text transform="translate(675.90,154.10) rotate(-45)" text-anchor="end" font-size="6.6" fill="#444444" dy="4.8">Oct 23</text>
<text x="499.20" y="7.90" font-size="10.1" fill="#1a1a1a">C. NRT use</text>
<polygon clip-path="url(#clipD)" points="53.30,342.90 54.59,342.98 56.30,343.07 58.34,343.16 60.61,343.22 63.00,343.27 65.43,343.31 67.80,343.34 70.00,343.35 72.09,343.37 74.17,343.39 76.26,343.40 78.35,343.42 80.44,343.43 82.53,343.43 84.61,343.42 86.70,343.40 88.86,343.36 91.11,343.31 93.41,343.26 95.68,343.20 97.88,343.13 99.94,343.06 101.80,342.98 103.40,342.90 104.70,342.81 105.73,342.72 106.55,342.63 107.24,342.52 107.87,342.42 108.49,342.31 109.18,342.21 110.00,342.10 110.94,341.99 111.93,341.86 112.94,341.73 113.97,341.60 115.01,341.48 116.04,341.36 117.04,341.27 118.00,341.20 118.93,341.15 119.84,341.12 120.74,341.09 121.62,341.09 122.49,341.09 123.34,341.12 124.18,341.15 125.00,341.20 125.80,341.27 126.57,341.37 127.32,341.48 128.06,341.61 128.79,341.74 129.52,341.87 130.26,342.00 131.00,342.10 131.68,342.19 132.26,342.28 132.79,342.36 133.35,342.44 133.99,342.52 134.77,342.59 135.75,342.65 137.00,342.70 138.55,342.75 140.36,342.79 142.38,342.82 144.54,342.85 146.78,342.87 149.04,342.89 151.27,342.90 153.40,342.90 155.49,342.90 157.61,342.89 159.75,342.87 161.88,342.85 163.99,342.82 166.06,342.79 168.07,342.75 170.00,342.70 171.85,342.64 173.64,342.58 175.38,342.51 177.07,342.43 178.72,342.35 180.34,342.27 181.93,342.18 183.50,342.09 185.04,342.00 186.55,341.89 188.02,341.78 189.47,341.66 190.89,341.55 192.28,341.44 193.65,341.35 195.00,341.27 196.34,341.21 197.68,341.16 198.99,341.13 200.28,341.10 201.54,341.07 202.75,341.04 203.90,341.01 205.00,340.96 206.01,340.91 206.92,340.85 207.77,340.79 208.59,340.73 209.39,340.66 210.21,340.59 211.07,340.51 212.00,340.42 213.06,340.31 214.24,340.17 215.49,340.01 216.74,339.83 217.93,339.64 219.02,339.44 219.93,339.25 220.60,339.10 220.60,342.70 219.93,342.61 219.02,342.51 217.93,342.41 216.74,342.33 215.49,342.27 214.24,342.22 213.06,342.19 212.00,342.18 211.07,342.18 210.21,342.18 209.39,342.19 208.59,342.20 207.77,342.21 206.92,342.22 206.01,342.23 205.00,342.24 203.90,342.25 202.75,342.24 201.54,342.24 200.28,342.24 198.99,342.24 197.68,342.26 196.34,342.29 195.00,342.33 193.65,342.40 192.28,342.49 190.89,342.58 189.47,342.69 188.02,342.80 186.55,342.91 185.04,343.01 183.50,343.11 181.93,343.19 180.34,343.28 178.72,343.36 177.07,343.44 175.38,343.52 173.64,343.58 171.85,343.65 170.00,343.70 168.07,343.75 166.06,343.79 163.99,343.82 161.88,343.85 159.75,343.87 157.61,343.89 155.49,343.90 153.40,343.90 151.27,343.90 149.04,343.89 146.78,343.87 144.54,343.85 142.38,343.82 140.36,343.79 138.55,343.75 137.00,343.70 135.75,343.65 134.77,343.59 133.99,343.52 133.35,343.44 132.79,343.36 132.26,343.28 131.68,343.19 131.00,343.10 130.26,343.00 129.52,342.88 128.79,342.74 128.06,342.61 127.32,342.48 126.57,342.37 125.80,342.27 125.00,342.20 124.18,342.15 123.34,342.12 122.49,342.09 121.62,342.09 120.74,342.09 119.84,342.12 118.93,342.15 118.00,342.20 117.04,342.27 116.04,342.36 115.01,342.48 113.97,342.60 112.94,342.73 111.93,342.86 110.94,342.99 110.00,343.10 109.18,343.21 108.49,343.31 107.87,343.42 107.24,343.53 106.55,343.63 105.73,343.72 104.70,343.82 103.40,343.90 101.80,343.98 99.94,344.06 97.88,344.13 95.68,344.20 93.41,344.26 91.11,344.32 88.86,344.37 86.70,344.40 84.61,344.43 82.53,344.44 80.44,344.45 78.35,344.45 76.26,344.44 74.17,344.44 72.09,344.44 70.00,344.45 67.80,344.46 65.43,344.49 63.00,344.53 60.61,344.58 58.34,344.64 56.30,344.73 54.59,344.82 53.30,344.90" fill="#d6457c" fill-opacity="0.24" />
<polygon clip-path="url(#clipD)" points="53.30,343.40 54.59,343.43 56.30,343.47 58.34,343.50 60.61,343.53 63.00,343.55 65.43,343.56 67.80,343.57 70.00,343.58 72.09,343.59 74.17,343.60 76.26,343.61 78.35,343.61 80.44,343.62 82.53,343.62 84.61,343.61 86.70,343.60 88.86,343.58 91.11,343.55 93.41,343.52 95.68,343.49 97.88,343.45 99.94,343.40 101.80,343.35 103.40,343.30 104.70,343.24 105.73,343.17 106.55,343.10 107.24,343.02 107.87,342.95 108.49,342.86 109.18,342.78 110.00,342.70 110.94,342.61 111.93,342.52 112.94,342.41 113.97,342.31 115.01,342.22 116.04,342.13 117.04,342.05 118.00,342.00 118.93,341.96 119.84,341.94 120.74,341.93 121.62,341.92 122.49,341.93 123.34,341.95 124.18,341.97 125.00,342.00 125.80,342.04 126.57,342.09 127.32,342.16 128.06,342.22 128.79,342.30 129.52,342.37 130.26,342.44 131.00,342.50 131.68,342.56 132.26,342.63 132.79,342.70 133.35,342.76 133.99,342.82 134.77,342.87 135.75,342.89 137.00,342.90 138.55,342.88 140.36,342.84 142.38,342.77 144.54,342.70 146.78,342.62 149.04,342.54 151.27,342.46 153.40,342.40 155.49,342.34 157.61,342.29 159.75,342.23 161.88,342.18 163.99,342.13 166.06,342.08 168.07,342.04 170.00,342.00 171.85,341.97 173.64,341.94 175.38,341.91 177.07,341.89 178.72,341.87 180.34,341.85 181.93,341.83 183.50,341.80 185.04,341.76 186.55,341.71 188.02,341.66 189.47,341.61 190.89,341.56 192.28,341.52 193.65,341.50 195.00,341.49 196.34,341.51 197.68,341.55 198.99,341.61 200.28,341.68 201.54,341.74 202.75,341.80 203.90,341.85 205.00,341.87 206.01,341.87 206.92,341.85 207.77,341.82 208.59,341.78 209.39,341.73 210.21,341.69 211.07,341.65 212.00,341.61 213.06,341.58 214.24,341.54 215.49,341.51 216.74,341.46 217.93,341.42 219.02,341.38 219.93,341.33 220.60,341.30 220.60,342.50 219.93,342.48 219.02,342.45 217.93,342.43 216.74,342.41 215.49,342.40 214.24,342.39 213.06,342.38 212.00,342.39 211.07,342.40 210.21,342.43 209.39,342.45 208.59,342.49 207.77,342.51 206.92,342.53 206.01,342.54 205.00,342.53 203.90,342.50 202.75,342.45 201.54,342.38 200.28,342.31 198.99,342.24 197.68,342.18 196.34,342.13 195.00,342.11 193.65,342.11 192.28,342.13 190.89,342.17 189.47,342.22 188.02,342.27 186.55,342.32 185.04,342.36 183.50,342.40 181.93,342.43 180.34,342.45 178.72,342.47 177.07,342.49 175.38,342.52 173.64,342.54 171.85,342.57 170.00,342.60 168.07,342.64 166.06,342.68 163.99,342.73 161.88,342.78 159.75,342.83 157.61,342.89 155.49,342.94 153.40,343.00 151.27,343.06 149.04,343.14 146.78,343.22 144.54,343.30 142.38,343.37 140.36,343.44 138.55,343.48 137.00,343.50 135.75,343.49 134.77,343.47 133.99,343.42 133.35,343.36 132.79,343.30 132.26,343.23 131.68,343.16 131.00,343.10 130.26,343.04 129.52,342.97 128.79,342.90 128.06,342.83 127.32,342.76 126.57,342.69 125.80,342.64 125.00,342.60 124.18,342.57 123.34,342.55 122.49,342.53 121.62,342.53 120.74,342.53 119.84,342.54 118.93,342.56 118.00,342.60 117.04,342.65 116.04,342.73 115.01,342.82 113.97,342.91 112.94,343.01 111.93,343.12 110.94,343.21 110.00,343.30 109.18,343.38 108.49,343.46 107.87,343.55 107.24,343.63 106.55,343.70 105.73,343.77 104.70,343.84 103.40,343.90 101.80,343.95 99.94,344.00 97.88,344.05 95.68,344.09 93.41,344.12 91.11,344.15 88.86,344.18 86.70,344.20 84.61,344.22 82.53,344.22 80.44,344.23 78.35,344.22 76.26,344.22 74.17,344.22 72.09,344.22 70.00,344.22 67.80,344.23 65.43,344.24 63.00,344.25 60.61,344.27 58.34,344.30 56.30,344.33 54.59,344.37 53.30,344.40" fill="#000000" fill-opacity="0.17" />
<polyline clip-path="url(#clipD)" points="53.30,343.90 54.59,343.90 56.30,343.90 58.34,343.90 60.61,343.90 63.00,343.90 65.43,343.90 67.80,343.90 70.00,343.90 72.09,343.90 74.17,343.91 76.26,343.92 78.35,343.93 80.44,343.94 82.53,343.94 84.61,343.92 86.70,343.90 88.86,343.86 91.11,343.82 93.41,343.76 95.68,343.70 97.88,343.63 99.94,343.56 101.80,343.48 103.40,343.40 104.70,343.32 105.73,343.22 106.55,343.13 107.24,343.02 107.87,342.92 108.49,342.81 109.18,342.71 110.00,342.60 110.94,342.49 111.93,342.36 112.94,342.23 113.97,342.10 115.01,341.98 116.04,341.86 117.04,341.77 118.00,341.70 118.93,341.65 119.84,341.62 120.74,341.59 121.62,341.59 122.49,341.59 123.34,341.62 124.18,341.65 125.00,341.70 125.80,341.77 126.57,341.87 127.32,341.98 128.06,342.11 128.79,342.24 129.52,342.38 130.26,342.50 131.00,342.60 131.68,342.69 132.26,342.78 132.79,342.86 133.35,342.94 133.99,343.02 134.77,343.09 135.75,343.15 137.00,343.20 138.55,343.25 140.36,343.29 142.38,343.32 144.54,343.35 146.78,343.37 149.04,343.39 151.27,343.40 153.40,343.40 155.49,343.40 157.61,343.39 159.75,343.37 161.88,343.35 163.99,343.32 166.06,343.29 168.07,343.25 170.00,343.20 171.85,343.15 173.64,343.08 175.38,343.01 177.07,342.94 178.72,342.86 180.34,342.77 181.93,342.69 183.50,342.60 185.04,342.51 186.55,342.40 188.02,342.29 189.47,342.17 190.89,342.06 192.28,341.96 193.65,341.87 195.00,341.80 196.34,341.75 197.68,341.71 198.99,341.69 200.28,341.67 201.54,341.66 202.75,341.64 203.90,341.63 205.00,341.60 206.01,341.57 206.92,341.53 207.77,341.50 208.59,341.46 209.39,341.42 210.21,341.38 211.07,341.34 212.00,341.30 213.06,341.25 214.24,341.20 215.49,341.14 216.74,341.08 217.93,341.03 219.02,340.97 219.93,340.93 220.60,340.90" fill="none" stroke="#d6457c" stroke-width="1.0" stroke-linejoin="round"/>
<polyline clip-path="url(#clipD)" points="53.30,343.90 54.59,343.90 56.30,343.90 58.34,343.90 60.61,343.90 63.00,343.90 65.43,343.90 67.80,343.90 70.00,343.90 72.09,343.90 74.17,343.91 76.26,343.91 78.35,343.92 80.44,343.92 82.53,343.92 84.61,343.91 86.70,343.90 88.86,343.88 91.11,343.85 93.41,343.82 95.68,343.79 97.88,343.75 99.94,343.70 101.80,343.65 103.40,343.60 104.70,343.54 105.73,343.47 106.55,343.40 107.24,343.32 107.87,343.25 108.49,343.16 109.18,343.08 110.00,343.00 110.94,342.91 111.93,342.82 112.94,342.71 113.97,342.61 115.01,342.52 116.04,342.43 117.04,342.35 118.00,342.30 118.93,342.26 119.84,342.24 120.74,342.23 121.62,342.22 122.49,342.23 123.34,342.25 124.18,342.27 125.00,342.30 125.80,342.34 126.57,342.39 127.32,342.46 128.06,342.52 128.79,342.60 129.52,342.67 130.26,342.74 131.00,342.80 131.68,342.86 132.26,342.93 132.79,343.00 133.35,343.06 133.99,343.12 134.77,343.17 135.75,343.19 137.00,343.20 138.55,343.18 140.36,343.14 142.38,343.07 144.54,343.00 146.78,342.92 149.04,342.84 151.27,342.76 153.40,342.70 155.49,342.64 157.61,342.59 159.75,342.53 161.88,342.48 163.99,342.43 166.06,342.38 168.07,342.34 170.00,342.30 171.85,342.27 173.64,342.24 175.38,342.21 177.07,342.19 178.72,342.17 180.34,342.15 181.93,342.13 183.50,342.10 185.04,342.06 186.55,342.02 188.02,341.96 189.47,341.91 190.89,341.87 192.28,341.83 193.65,341.80 195.00,341.80 196.34,341.82 197.68,341.86 198.99,341.93 200.28,341.99 201.54,342.06 202.75,342.13 203.90,342.17 205.00,342.20 206.01,342.20 206.92,342.19 207.77,342.16 208.59,342.13 209.39,342.09 210.21,342.06 211.07,342.02 212.00,342.00 213.06,341.98 214.24,341.97 215.49,341.95 216.74,341.94 217.93,341.93 219.02,341.92 219.93,341.91 220.60,341.90" fill="none" stroke="#383838" stroke-width="1.25" stroke-linejoin="round"/>
<line x1="43.5" y1="205.5" x2="43.5" y2="343.1" stroke="#8f8f8f" stroke-width="1"/>
<line x1="43.5" y1="206.0" x2="229.0" y2="206.0" stroke="#c2c2c2" stroke-width="1.2"/>
<line x1="229.0" y1="206.0" x2="229.0" y2="342.5" stroke="#b0b0b0" stroke-width="1.4"/>
<line x1="43.0" y1="342.5" x2="229.6" y2="342.5" stroke="#8f8f8f" stroke-width="1.0"/>
<line x1="41.20" y1="342.60" x2="43.5" y2="342.60" stroke="#858585" stroke-width="1"/>
<text x="39.90" y="345.50" text-anchor="end" font-size="6.6" fill="#444444">0%</text>
<line x1="41.20" y1="321.85" x2="43.5" y2="321.85" stroke="#858585" stroke-width="1"/>
<text x="39.90" y="324.75" text-anchor="end" font-size="6.6" fill="#444444">5%</text>
<line x1="41.20" y1="301.10" x2="43.5" y2="301.10" stroke="#858585" stroke-width="1"/>
<text x="39.90" y="304.00" text-anchor="end" font-size="6.6" fill="#444444">10%</text>
<line x1="41.20" y1="280.35" x2="43.5" y2="280.35" stroke="#858585" stroke-width="1"/>
<text x="39.90" y="283.25" text-anchor="end" font-size="6.6" fill="#444444">15%</text>
<line x1="41.20" y1="259.60" x2="43.5" y2="259.60" stroke="#858585" stroke-width="1"/>
<text x="39.90" y="262.50" text-anchor="end" font-size="6.6" fill="#444444">20%</text>
<line x1="41.20" y1="238.85" x2="43.5" y2="238.85" stroke="#858585" stroke-width="1"/>
<text x="39.90" y="241.75" text-anchor="end" font-size="6.6" fill="#444444">25%</text>
<line x1="41.20" y1="218.10" x2="43.5" y2="218.10" stroke="#858585" stroke-width="1"/>
<text x="39.90" y="221.00" text-anchor="end" font-size="6.6" fill="#444444">30%</text>
<line x1="53.40" y1="342.5" x2="53.40" y2="344.50" stroke="#5a5a5a" stroke-width="1"/>
<text transform="translate(53.50,346.60) rotate(-45)" text-anchor="end" font-size="6.6" fill="#444444" dy="4.8">Oct 13</text>
<line x1="70.13" y1="342.5" x2="70.13" y2="344.50" stroke="#5a5a5a" stroke-width="1"/>
<text transform="translate(70.23,346.60) rotate(-45)" text-anchor="end" font-size="6.6" fill="#444444" dy="4.8">Oct 14</text>
<line x1="86.86" y1="342.5" x2="86.86" y2="344.50" stroke="#5a5a5a" stroke-width="1"/>
<text transform="translate(86.96,346.60) rotate(-45)" text-anchor="end" font-size="6.6" fill="#444444" dy="4.8">Oct 15</text>
<line x1="103.59" y1="342.5" x2="103.59" y2="344.50" stroke="#5a5a5a" stroke-width="1"/>
<text transform="translate(103.69,346.60) rotate(-45)" text-anchor="end" font-size="6.6" fill="#444444" dy="4.8">Oct 16</text>
<line x1="120.32" y1="342.5" x2="120.32" y2="344.50" stroke="#5a5a5a" stroke-width="1"/>
<text transform="translate(120.42,346.60) rotate(-45)" text-anchor="end" font-size="6.6" fill="#444444" dy="4.8">Oct 17</text>
<line x1="137.05" y1="342.5" x2="137.05" y2="344.50" stroke="#5a5a5a" stroke-width="1"/>
<text transform="translate(137.15,346.60) rotate(-45)" text-anchor="end" font-size="6.6" fill="#444444" dy="4.8">Oct 18</text>
<line x1="153.78" y1="342.5" x2="153.78" y2="344.50" stroke="#5a5a5a" stroke-width="1"/>
<text transform="translate(153.88,346.60) rotate(-45)" text-anchor="end" font-size="6.6" fill="#444444" dy="4.8">Oct 19</text>
<line x1="170.51" y1="342.5" x2="170.51" y2="344.50" stroke="#5a5a5a" stroke-width="1"/>
<text transform="translate(170.61,346.60) rotate(-45)" text-anchor="end" font-size="6.6" fill="#444444" dy="4.8">Oct 20</text>
<line x1="187.24" y1="342.5" x2="187.24" y2="344.50" stroke="#5a5a5a" stroke-width="1"/>
<text transform="translate(187.34,346.60) rotate(-45)" text-anchor="end" font-size="6.6" fill="#444444" dy="4.8">Oct 21</text>
<line x1="203.97" y1="342.5" x2="203.97" y2="344.50" stroke="#5a5a5a" stroke-width="1"/>
<text transform="translate(204.07,346.60) rotate(-45)" text-anchor="end" font-size="6.6" fill="#444444" dy="4.8">Oct 22</text>
<line x1="220.70" y1="342.5" x2="220.70" y2="344.50" stroke="#5a5a5a" stroke-width="1"/>
<text transform="translate(220.80,346.60) rotate(-45)" text-anchor="end" font-size="6.6" fill="#444444" dy="4.8">Oct 23</text>
<text x="43.20" y="200.40" font-size="10.1" fill="#1a1a1a">D. Heated tobacco product use</text>
<polygon clip-path="url(#clipE)" points="281.00,343.60 282.46,343.66 284.39,343.72 286.69,343.77 289.25,343.81 291.97,343.84 294.73,343.86 297.45,343.87 300.00,343.88 302.45,343.89 304.93,343.89 307.43,343.89 309.94,343.90 312.46,343.90 314.98,343.90 317.49,343.90 320.00,343.90 322.50,343.90 325.00,343.91 327.50,343.92 330.00,343.93 332.50,343.94 335.00,343.94 337.50,343.92 340.00,343.90 342.50,343.86 345.00,343.81 347.50,343.74 350.00,343.67 352.50,343.59 355.00,343.52 357.50,343.46 360.00,343.40 362.52,343.36 365.06,343.32 367.61,343.29 370.16,343.27 372.68,343.24 375.18,343.21 377.62,343.16 380.00,343.10 382.34,343.02 384.67,342.93 386.97,342.84 389.22,342.73 391.41,342.62 393.54,342.51 395.57,342.40 397.50,342.30 399.32,342.20 401.04,342.09 402.66,341.98 404.22,341.88 405.72,341.77 407.17,341.67 408.59,341.58 410.00,341.49 411.37,341.41 412.68,341.34 413.93,341.27 415.16,341.21 416.36,341.14 417.56,341.09 418.77,341.03 420.00,340.97 421.25,340.92 422.50,340.88 423.75,340.84 425.00,340.81 426.25,340.77 427.50,340.72 428.75,340.66 430.00,340.59 431.26,340.50 432.54,340.39 433.83,340.27 435.11,340.14 436.38,340.00 437.63,339.85 438.84,339.69 440.00,339.54 441.17,339.37 442.37,339.18 443.57,338.97 444.73,338.74 445.80,338.51 446.77,338.28 447.58,338.07 448.20,337.90 448.20,341.90 447.58,341.82 446.77,341.73 445.80,341.64 444.73,341.57 443.57,341.52 442.37,341.48 441.17,341.47 440.00,341.46 438.84,341.48 437.63,341.51 436.38,341.55 435.11,341.60 433.83,341.65 432.54,341.71 431.26,341.76 430.00,341.81 428.75,341.85 427.50,341.88 426.25,341.90 425.00,341.92 423.75,341.94 422.50,341.96 421.25,341.99 420.00,342.03 418.77,342.07 417.56,342.12 416.36,342.18 415.16,342.23 413.93,342.29 412.68,342.36 411.37,342.43 410.00,342.51 408.59,342.59 407.17,342.68 405.72,342.78 404.22,342.88 402.66,342.99 401.04,343.09 399.32,343.20 397.50,343.30 395.57,343.40 393.54,343.51 391.41,343.62 389.22,343.73 386.97,343.84 384.67,343.94 382.34,344.02 380.00,344.10 377.62,344.16 375.18,344.21 372.68,344.24 370.16,344.27 367.61,344.29 365.06,344.32 362.52,344.36 360.00,344.40 357.50,344.46 355.00,344.52 352.50,344.59 350.00,344.67 347.50,344.74 345.00,344.81 342.50,344.86 340.00,344.90 337.50,344.92 335.00,344.94 332.50,344.94 330.00,344.93 327.50,344.92 325.00,344.91 322.50,344.90 320.00,344.90 317.49,344.90 314.98,344.90 312.46,344.90 309.94,344.90 307.43,344.91 304.93,344.91 302.45,344.91 300.00,344.92 297.45,344.93 294.73,344.94 291.97,344.96 289.25,344.99 286.69,345.03 284.39,345.08 282.46,345.14 281.00,345.20" fill="#d6457c" fill-opacity="0.24" />
<polygon clip-path="url(#clipE)" points="281.00,343.90 282.46,343.94 284.39,343.98 286.69,344.01 289.25,344.04 291.97,344.06 294.73,344.07 297.45,344.08 300.00,344.09 302.45,344.09 304.93,344.09 307.43,344.10 309.94,344.10 312.46,344.10 314.98,344.10 317.49,344.10 320.00,344.10 322.50,344.10 325.00,344.11 327.50,344.12 330.00,344.13 332.50,344.14 335.00,344.14 337.50,344.12 340.00,344.10 342.50,344.06 345.00,344.01 347.50,343.95 350.00,343.88 352.50,343.81 355.00,343.74 357.50,343.67 360.00,343.60 362.52,343.54 365.06,343.48 367.61,343.42 370.16,343.36 372.68,343.30 375.18,343.24 377.62,343.17 380.00,343.10 382.34,343.02 384.67,342.94 386.97,342.86 389.22,342.77 391.41,342.68 393.54,342.59 395.57,342.49 397.50,342.40 399.32,342.30 401.04,342.20 402.66,342.09 404.22,341.99 405.72,341.88 407.17,341.78 408.59,341.68 410.00,341.60 411.37,341.52 412.68,341.43 413.93,341.36 415.16,341.28 416.36,341.22 417.56,341.16 418.77,341.12 420.00,341.09 421.25,341.09 422.50,341.10 423.75,341.14 425.00,341.18 426.25,341.22 427.50,341.25 428.75,341.27 430.00,341.27 431.26,341.24 432.54,341.20 433.83,341.14 435.11,341.08 436.38,341.00 437.63,340.93 438.84,340.85 440.00,340.78 441.17,340.70 442.37,340.62 443.57,340.53 444.73,340.43 445.80,340.34 446.77,340.25 447.58,340.16 448.20,340.10 448.20,341.50 447.58,341.50 446.77,341.50 445.80,341.50 444.73,341.52 443.57,341.54 442.37,341.56 441.17,341.59 440.00,341.62 438.84,341.66 437.63,341.70 436.38,341.75 435.11,341.80 433.83,341.85 432.54,341.88 431.26,341.91 430.00,341.93 428.75,341.92 427.50,341.90 426.25,341.86 425.00,341.81 423.75,341.76 422.50,341.73 421.25,341.70 420.00,341.71 418.77,341.73 417.56,341.77 416.36,341.83 415.16,341.89 413.93,341.96 412.68,342.04 411.37,342.12 410.00,342.20 408.59,342.29 407.17,342.38 405.72,342.48 404.22,342.59 402.66,342.69 401.04,342.80 399.32,342.90 397.50,343.00 395.57,343.09 393.54,343.19 391.41,343.28 389.22,343.37 386.97,343.46 384.67,343.54 382.34,343.62 380.00,343.70 377.62,343.77 375.18,343.84 372.68,343.90 370.16,343.96 367.61,344.02 365.06,344.08 362.52,344.14 360.00,344.20 357.50,344.27 355.00,344.34 352.50,344.41 350.00,344.48 347.50,344.55 345.00,344.61 342.50,344.66 340.00,344.70 337.50,344.72 335.00,344.74 332.50,344.74 330.00,344.73 327.50,344.72 325.00,344.71 322.50,344.70 320.00,344.70 317.49,344.70 314.98,344.70 312.46,344.70 309.94,344.70 307.43,344.70 304.93,344.71 302.45,344.71 300.00,344.71 297.45,344.72 294.73,344.73 291.97,344.74 289.25,344.76 286.69,344.79 284.39,344.82 282.46,344.86 281.00,344.90" fill="#000000" fill-opacity="0.17" />
<polyline clip-path="url(#clipE)" points="281.00,344.40 282.46,344.40 284.39,344.40 286.69,344.40 289.25,344.40 291.97,344.40 294.73,344.40 297.45,344.40 300.00,344.40 302.45,344.40 304.93,344.40 307.43,344.40 309.94,344.40 312.46,344.40 314.98,344.40 317.49,344.40 320.00,344.40 322.50,344.40 325.00,344.41 327.50,344.42 330.00,344.43 332.50,344.44 335.00,344.44 337.50,344.42 340.00,344.40 342.50,344.36 345.00,344.31 347.50,344.24 350.00,344.17 352.50,344.09 355.00,344.02 357.50,343.96 360.00,343.90 362.52,343.86 365.06,343.82 367.61,343.79 370.16,343.77 372.68,343.74 375.18,343.71 377.62,343.66 380.00,343.60 382.34,343.52 384.67,343.44 386.97,343.34 389.22,343.23 391.41,343.12 393.54,343.01 395.57,342.90 397.50,342.80 399.32,342.70 401.04,342.59 402.66,342.49 404.22,342.38 405.72,342.28 407.17,342.18 408.59,342.09 410.00,342.00 411.37,341.92 412.68,341.85 413.93,341.78 415.16,341.72 416.36,341.66 417.56,341.60 418.77,341.55 420.00,341.50 421.25,341.46 422.50,341.42 423.75,341.39 425.00,341.36 426.25,341.33 427.50,341.30 428.75,341.26 430.00,341.20 431.26,341.13 432.54,341.05 433.83,340.96 435.11,340.87 436.38,340.77 437.63,340.68 438.84,340.59 440.00,340.50 441.17,340.42 442.37,340.33 443.57,340.24 444.73,340.16 445.80,340.08 446.77,340.01 447.58,339.95 448.20,339.90" fill="none" stroke="#d6457c" stroke-width="1.0" stroke-linejoin="round"/>
<polyline clip-path="url(#clipE)" points="281.00,344.40 282.46,344.40 284.39,344.40 286.69,344.40 289.25,344.40 291.97,344.40 294.73,344.40 297.45,344.40 300.00,344.40 302.45,344.40 304.93,344.40 307.43,344.40 309.94,344.40 312.46,344.40 314.98,344.40 317.49,344.40 320.00,344.40 322.50,344.40 325.00,344.41 327.50,344.42 330.00,344.43 332.50,344.44 335.00,344.44 337.50,344.42 340.00,344.40 342.50,344.36 345.00,344.31 347.50,344.25 350.00,344.18 352.50,344.11 355.00,344.04 357.50,343.97 360.00,343.90 362.52,343.84 365.06,343.78 367.61,343.72 370.16,343.66 372.68,343.60 375.18,343.54 377.62,343.47 380.00,343.40 382.34,343.32 384.67,343.24 386.97,343.16 389.22,343.07 391.41,342.98 393.54,342.89 395.57,342.79 397.50,342.70 399.32,342.60 401.04,342.50 402.66,342.39 404.22,342.29 405.72,342.18 407.17,342.08 408.59,341.99 410.00,341.90 411.37,341.82 412.68,341.74 413.93,341.66 415.16,341.59 416.36,341.52 417.56,341.47 418.77,341.43 420.00,341.40 421.25,341.40 422.50,341.41 423.75,341.45 425.00,341.49 426.25,341.54 427.50,341.58 428.75,341.60 430.00,341.60 431.26,341.58 432.54,341.54 433.83,341.49 435.11,341.44 436.38,341.38 437.63,341.31 438.84,341.25 440.00,341.20 441.17,341.15 442.37,341.09 443.57,341.03 444.73,340.98 445.80,340.92 446.77,340.87 447.58,340.83 448.20,340.80" fill="none" stroke="#383838" stroke-width="1.25" stroke-linejoin="round"/>
<line x1="271.5" y1="205.5" x2="271.5" y2="343.1" stroke="#8f8f8f" stroke-width="1"/>
<line x1="271.5" y1="206.0" x2="456.5" y2="206.0" stroke="#c2c2c2" stroke-width="1.2"/>
<line x1="456.5" y1="206.0" x2="456.5" y2="342.5" stroke="#8f8f8f" stroke-width="1.0"/>
<line x1="271.0" y1="342.5" x2="457.1" y2="342.5" stroke="#8f8f8f" stroke-width="1.0"/>
<line x1="269.20" y1="342.60" x2="271.5" y2="342.60" stroke="#858585" stroke-width="1"/>
<text x="267.30" y="345.50" text-anchor="end" font-size="6.6" fill="#444444">0%</text>
<line x1="269.20" y1="321.85" x2="271.5" y2="321.85" stroke="#858585" stroke-width="1"/>
<text x="267.30" y="324.75" text-anchor="end" font-size="6.6" fill="#444444">5%</text>
<line x1="269.20" y1="301.10" x2="271.5" y2="301.10" stroke="#858585" stroke-width="1"/>
<text x="267.30" y="304.00" text-anchor="end" font-size="6.6" fill="#444444">10%</text>
<line x1="269.20" y1="280.35" x2="271.5" y2="280.35" stroke="#858585" stroke-width="1"/>
<text x="267.30" y="283.25" text-anchor="end" font-size="6.6" fill="#444444">15%</text>
<line x1="269.20" y1="259.60" x2="271.5" y2="259.60" stroke="#858585" stroke-width="1"/>
<text x="267.30" y="262.50" text-anchor="end" font-size="6.6" fill="#444444">20%</text>
<line x1="269.20" y1="238.85" x2="271.5" y2="238.85" stroke="#858585" stroke-width="1"/>
<text x="267.30" y="241.75" text-anchor="end" font-size="6.6" fill="#444444">25%</text>
<line x1="269.20" y1="218.10" x2="271.5" y2="218.10" stroke="#858585" stroke-width="1"/>
<text x="267.30" y="221.00" text-anchor="end" font-size="6.6" fill="#444444">30%</text>
<line x1="281.10" y1="342.5" x2="281.10" y2="344.50" stroke="#5a5a5a" stroke-width="1"/>
<text transform="translate(281.20,346.60) rotate(-45)" text-anchor="end" font-size="6.6" fill="#444444" dy="4.8">Oct 13</text>
<line x1="297.83" y1="342.5" x2="297.83" y2="344.50" stroke="#5a5a5a" stroke-width="1"/>
<text transform="translate(297.93,346.60) rotate(-45)" text-anchor="end" font-size="6.6" fill="#444444" dy="4.8">Oct 14</text>
<line x1="314.56" y1="342.5" x2="314.56" y2="344.50" stroke="#5a5a5a" stroke-width="1"/>
<text transform="translate(314.66,346.60) rotate(-45)" text-anchor="end" font-size="6.6" fill="#444444" dy="4.8">Oct 15</text>
<line x1="331.29" y1="342.5" x2="331.29" y2="344.50" stroke="#5a5a5a" stroke-width="1"/>
<text transform="translate(331.39,346.60) rotate(-45)" text-anchor="end" font-size="6.6" fill="#444444" dy="4.8">Oct 16</text>
<line x1="348.02" y1="342.5" x2="348.02" y2="344.50" stroke="#5a5a5a" stroke-width="1"/>
<text transform="translate(348.12,346.60) rotate(-45)" text-anchor="end" font-size="6.6" fill="#444444" dy="4.8">Oct 17</text>
<line x1="364.75" y1="342.5" x2="364.75" y2="344.50" stroke="#5a5a5a" stroke-width="1"/>
<text transform="translate(364.85,346.60) rotate(-45)" text-anchor="end" font-size="6.6" fill="#444444" dy="4.8">Oct 18</text>
<line x1="381.48" y1="342.5" x2="381.48" y2="344.50" stroke="#5a5a5a" stroke-width="1"/>
<text transform="translate(381.58,346.60) rotate(-45)" text-anchor="end" font-size="6.6" fill="#444444" dy="4.8">Oct 19</text>
<line x1="398.21" y1="342.5" x2="398.21" y2="344.50" stroke="#5a5a5a" stroke-width="1"/>
<text transform="translate(398.31,346.60) rotate(-45)" text-anchor="end" font-size="6.6" fill="#444444" dy="4.8">Oct 20</text>
<line x1="414.94" y1="342.5" x2="414.94" y2="344.50" stroke="#5a5a5a" stroke-width="1"/>
<text transform="translate(415.04,346.60) rotate(-45)" text-anchor="end" font-size="6.6" fill="#444444" dy="4.8">Oct 21</text>
<line x1="431.67" y1="342.5" x2="431.67" y2="344.50" stroke="#5a5a5a" stroke-width="1"/>
<text transform="translate(431.77,346.60) rotate(-45)" text-anchor="end" font-size="6.6" fill="#444444" dy="4.8">Oct 22</text>
<line x1="448.40" y1="342.5" x2="448.40" y2="344.50" stroke="#5a5a5a" stroke-width="1"/>
<text transform="translate(448.50,346.60) rotate(-45)" text-anchor="end" font-size="6.6" fill="#444444" dy="4.8">Oct 23</text>
<text x="271.20" y="200.40" font-size="10.1" fill="#1a1a1a">E. Pouch use</text>
<text transform="translate(7.2,188) rotate(-90)" text-anchor="middle" font-size="9.8" fill="#1a1a1a">Prevalence</text>
<text x="347.9" y="383.8" text-anchor="middle" font-size="9.6" fill="#1a1a1a">Month</text>
<line x1="527" y1="274.5" x2="537" y2="274.5" stroke="#de6b98" stroke-width="1.1"/>
<line x1="527" y1="286.5" x2="537" y2="286.5" stroke="#505050" stroke-width="1.1"/>
<text x="542.5" y="276.8" font-size="6.7" fill="#1a1a1a">Women of reproductive age</text>
<text x="542.5" y="288.9" font-size="6.7" fill="#1a1a1a">All adults</text>
</svg>
</body></html>
